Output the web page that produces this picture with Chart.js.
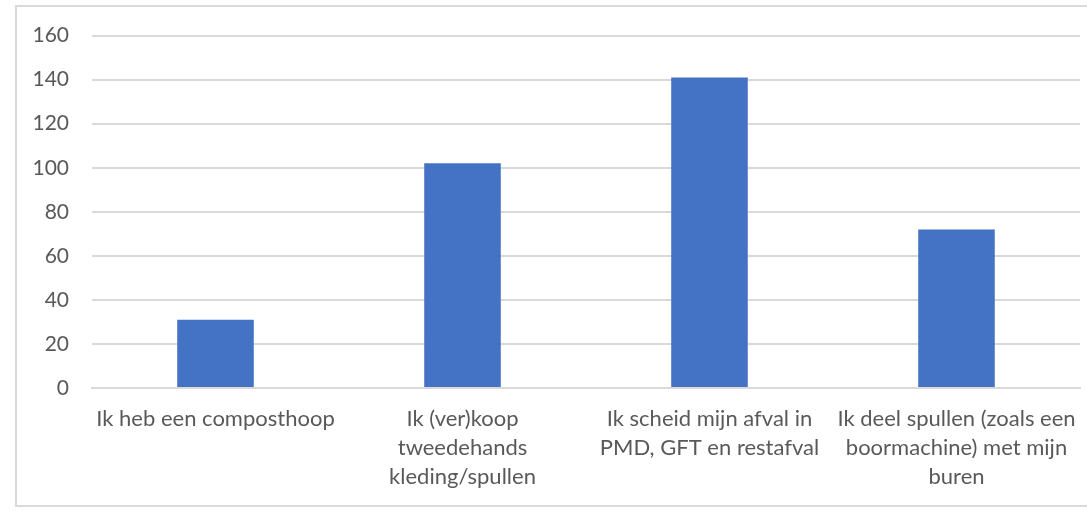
<!DOCTYPE html>
<html><head><meta charset="utf-8">
<script src="https://cdn.jsdelivr.net/npm/chart.js@4.4.0/dist/chart.umd.min.js"></script>
<style>
html,body{margin:0;padding:0;background:#fff;}
#frame{position:absolute;left:15px;top:5px;width:1080px;height:502px;border:2px solid #d9d9d9;box-sizing:border-box;}
#wrap{position:absolute;left:0;top:0;width:1087px;height:511px;}
</style></head>
<body>
<div id="frame"></div>
<div id="wrap"><canvas id="c"></canvas></div>
<script>
const categories = [
  ["Ik heb een composthoop"],
  ["Ik (ver)koop", "tweedehands", "kleding/spullen"],
  ["Ik scheid mijn afval in", "PMD, GFT en restafval"],
  ["Ik deel spullen (zoals een", "boormachine) met mijn", "buren"]
];
const values = [31, 102, 141, 72];
const yTicks = [0, 20, 40, 60, 80, 100, 120, 140, 160];

const FONT = "Lato, 'Open Sans', sans-serif";
new Chart(document.getElementById('c'), {
  type: 'bar',
  data: {
    labels: categories,
    datasets: [{ data: values, backgroundColor: '#4472c4', borderWidth: 0,
      categoryPercentage: 1, barPercentage: 0.31 }]
  },
  options: {
    responsive: true, maintainAspectRatio: false, animation: false,
    devicePixelRatio: 1,
    layout: { padding: { left: 0, right: 7, top: 25, bottom: 0 } },
    plugins: { legend: { display: false }, tooltip: { enabled: false } },
    scales: {
      x: {
        grid: { display: false, drawTicks: false },
        border: { color: '#d9d9d9', width: 2 },
        ticks: { color: '#595959', font: { family: FONT, size: 22, lineHeight: 29/22 },
          padding: 16, maxRotation: 0, autoSkip: false },
        afterFit: s => { s.height = 511 - 388; s.paddingLeft = 0; s.paddingRight = 0; }
      },
      y: {
        min: 0, max: 160,
        afterBuildTicks: s => { s.ticks = yTicks.map(v => ({ value: v })); },
        grid: { color: '#d9d9d9', lineWidth: 2, drawTicks: false },
        border: { display: false },
        ticks: { color: '#595959', font: { family: FONT, size: 21 }, padding: 23 },
        afterFit: s => { s.width = 92; }
      }
    }
  }
});
</script>
</body></html>
